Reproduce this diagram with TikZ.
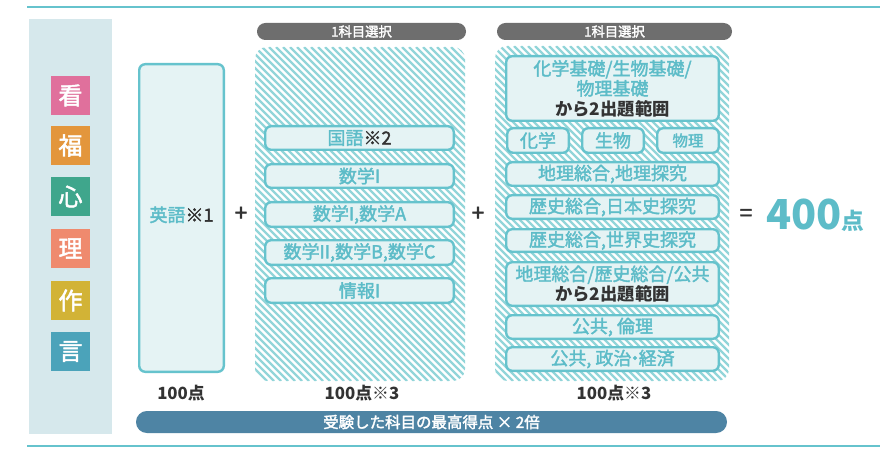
\documentclass[tikz,border=0pt]{standalone}
\usepackage{fontspec}
\setmainfont{Noto Sans CJK JP}
\newfontfamily\medf[FakeBold=2]{Noto Sans CJK JP}
\definecolor{teal}{HTML}{5DBCC8}
\definecolor{tealline}{HTML}{66C3CD}
\definecolor{hatchc}{HTML}{92D5D9}
\definecolor{boxfill}{HTML}{E5F3F4}
\definecolor{panelc}{HTML}{D6E8EC}
\definecolor{darkt}{HTML}{333333}
\definecolor{pillc}{HTML}{6E6E6E}
\definecolor{barc}{HTML}{4E84A4}
\definecolor{sqa}{HTML}{E0709C}
\definecolor{sqb}{HTML}{E3963C}
\definecolor{sqc}{HTML}{3FA68C}
\definecolor{sqd}{HTML}{EF8A6E}
\definecolor{sqe}{HTML}{D2B336}
\definecolor{sqf}{HTML}{4BA3BA}
\tikzset{
  pxbox/.style={draw=tealline,line width=1.8pt,fill=boxfill,rounded corners=4.5pt,inner sep=0pt,
    text=teal,align=center,font=\medf\fontsize{13.5pt}{15pt}\selectfont},
  pill/.style={fill=pillc,rounded corners=6.3pt,inner sep=0pt,text=white,font=\medf\fontsize{10pt}{11pt}\selectfont},
  bar/.style={fill=barc,rounded corners=8.2pt,inner sep=0pt,text=white,font=\medf\fontsize{11.6pt}{13pt}\selectfont},
  square/.style={inner sep=0pt,text=white,font=\medf\fontsize{18pt}{20pt}\selectfont},
  plain/.style={inner sep=0pt,text=darkt,font=\fontsize{12.6pt}{15pt}\bfseries\selectfont},
  opsign/.style={inner sep=0pt,text=darkt,font=\medf\fontsize{17pt}{19pt}\selectfont},
  rule/.style={draw=tealline,line width=1.5pt},
  hatchline/.style={draw=hatchc,line width=1.8pt}
}
% name, x1, y1, x2, y2, style, text
\newcommand\pbx[7]{\node[#6,minimum width={(#4-#2)*0.75pt},minimum height={(#5-#3)*0.75pt}] (#1) at ({(#2+#4)/2},{(#3+#5)/2}) {#7};}
% outlined box: the measures are its outer edge, the outline is 2.4px wide
\newcommand\tbx[6]{\node[pxbox,minimum width={(#4-#2-2.4)*0.75pt},minimum height={(#5-#3-2.4)*0.75pt}] (#1) at ({(#2+#4)/2},{(#3+#5)/2}) {#6};}
% x1,y1,x2,y2
\newcommand\hatchpanel[4]{
  \begin{scope}
    \clip[rounded corners=9pt] (#1,#2) rectangle (#3,#4);
    \foreach \xs in {-200,-193,...,800} {
      \draw[hatchline] (\xs,#2) -- ++({#4-#2},{#4-#2});
    }
  \end{scope}
}
\newcommand\blk[1]{\textcolor{darkt}{#1}}
\newcommand\blkb[1]{\textcolor{darkt}{\normalfont\bfseries\fontsize{13pt}{15pt}\selectfont #1}}
\begin{document}
\begin{tikzpicture}[x=0.75pt,y=-0.75pt]
\useasboundingbox (0,0) rectangle (880,452);
\fill[white] (0,0) rectangle (880,452);
\coordinate (tl) at (27,7.5); \coordinate (tr) at (880,7.5);
\coordinate (bl) at (27,446); \coordinate (br) at (880,446);
\draw[rule] (tl) -- (tr);
\draw[rule] (bl) -- (br);
\fill[panelc] (29,19) rectangle (112,434);
\pbx{ka}{51}{76}{90}{115}{square,fill=sqa}{看}
\pbx{kb}{51}{126}{90}{165}{square,fill=sqb}{福}
\pbx{kc}{51}{177}{90}{216}{square,fill=sqc}{心}
\pbx{kd}{51}{229}{90}{268}{square,fill=sqd}{理}
\pbx{ke}{51}{281}{90}{320}{square,fill=sqe}{作}
\pbx{kf}{51}{332}{90}{371}{square,fill=sqf}{言}
\tbx{eng}{138}{63}{225}{373}{\raisebox{2.4pt}[\height][\depth]{英語\blk{※1}}}
\node[plain] (p1) at (181,393) {100点};
\node[opsign] (plusa) at (241,214) {+};
\pbx{pa}{257}{23}{466}{40}{pill}{1科目選択}
\hatchpanel{255}{47}{465}{381}
\tbx{m1}{264}{125}{455}{151}{国語\blk{※2}}
\tbx{m2}{264}{163}{455}{189}{数学I}
\tbx{m3}{264}{201}{455}{228}{数学I,数学A}
\tbx{m4}{264}{239}{455}{266}{数学II,数学B,数学C}
\tbx{m5}{264}{277}{455}{304}{情報I}
\node[plain] (p2) at (362,393) {100点※3};
\node[opsign] (plusb) at (478,214) {+};
\pbx{pb}{497}{23}{732}{40}{pill}{1科目選択}
\hatchpanel{495}{46}{729}{381}
\tbx{s1}{505}{55}{720}{122}{化学基礎/生物基礎/\\物理基礎\\\blkb{から2出題範囲}}
\tbx{s2}{506}{127}{570}{154}{化学}
\tbx{s3}{581}{127}{645}{154}{生物}
\tbx{s4}{656}{127}{720}{154}{\fontsize{11.6pt}{13pt}\selectfont 物理}
\tbx{s5}{505}{161}{720}{187}{地理総合,地理探究}
\tbx{s6}{505}{194}{720}{220}{歴史総合,日本史探究}
\tbx{s7}{505}{228}{720}{253}{歴史総合,世界史探究}
\tbx{s8}{505}{261}{720}{307}{地理総合/歴史総合/公共\\\blkb{から2出題範囲}}
\tbx{s9}{505}{314}{720}{340}{公共, 倫理}
\tbx{s10}{505}{346}{720}{372}{公共, 政治\kern-0.3em・\kern-0.3em経済}
\node[plain] (p3) at (614,393) {100点※3};
\pbx{tb}{136}{411}{727}{433}{bar}{受験した科目の最高得点 × 2倍}
\node[opsign] (eq) at (746,215) {=};
\node[inner sep=0pt,text=teal,anchor=base west,font=\fontsize{31pt}{34pt}\bfseries\selectfont] (tot) at (766,229) {400\normalfont\fontsize{17pt}{20pt}\bfseries\selectfont 点};
\end{tikzpicture}
\end{document}
